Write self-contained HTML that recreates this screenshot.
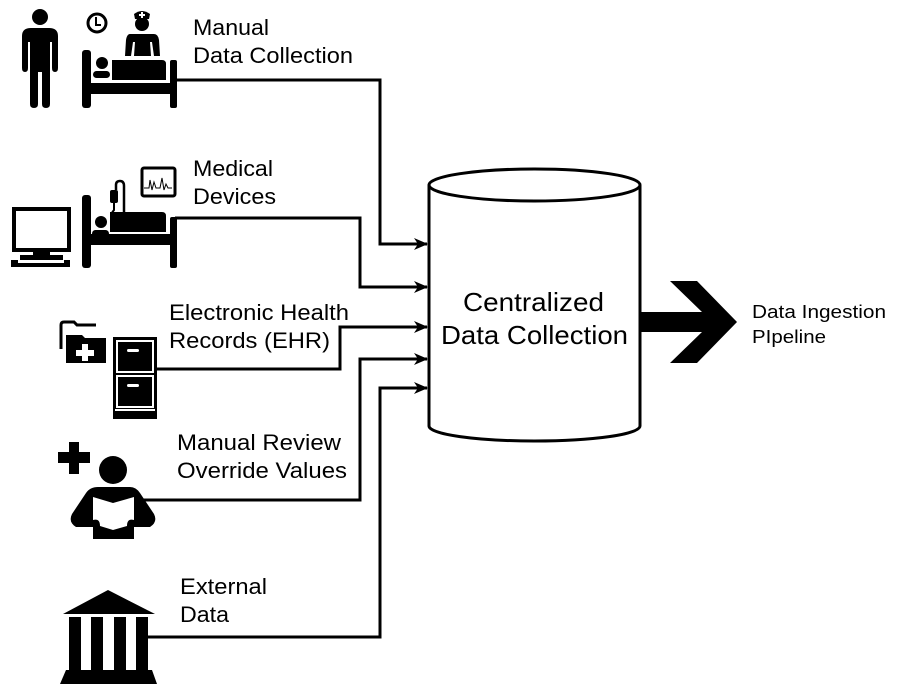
<!DOCTYPE html>
<html><head><meta charset="utf-8"><style>
html,body{margin:0;padding:0;background:#fff;}
svg{display:block;}
text{font-family:"Liberation Sans",Arial,sans-serif;fill:#000;}
</style></head><body>
<svg width="910" height="695" viewBox="0 0 910 695" xmlns="http://www.w3.org/2000/svg">
<defs>
<marker id="ah" markerWidth="14" markerHeight="12" refX="13" refY="6" orient="auto" markerUnits="userSpaceOnUse">
<path d="M0,0 L14,6 L0,12 L4,6 Z" fill="#000"/>
</marker>
</defs>
<g fill="none" stroke="#000" stroke-width="3">
<polyline points="177,80 380,80 380,244 427,244" marker-end="url(#ah)"/>
<polyline points="175,218 360,218 360,287 427,287" marker-end="url(#ah)"/>
<polyline points="157,369 340,369 340,327 427,327" marker-end="url(#ah)"/>
<polyline points="140,500 360,500 360,359 427,359" marker-end="url(#ah)"/>
<polyline points="148,637 380,637 380,388 427,388" marker-end="url(#ah)"/>
</g>
<path d="M429,185 L429,426 A105.5,15 0 0 0 640,426 L640,185" fill="#fff" stroke="#000" stroke-width="3"/>
<ellipse cx="534.5" cy="185" rx="105.5" ry="16" fill="#fff" stroke="#000" stroke-width="3"/>
<text x="463" y="311" font-size="26" textLength="141" lengthAdjust="spacingAndGlyphs">Centralized</text>
<text x="441" y="344" font-size="26" textLength="187" lengthAdjust="spacingAndGlyphs">Data Collection</text>
<polygon points="640,312 702,312 670,281 697,281 737,322 697,363 670,363 702,332 640,332" fill="#000"/>
<text x="752" y="318" font-size="18" textLength="134" lengthAdjust="spacingAndGlyphs">Data Ingestion</text>
<text x="752" y="343" font-size="18" textLength="74" lengthAdjust="spacingAndGlyphs">PIpeline</text>
<g font-size="22" lengthAdjust="spacingAndGlyphs">
<text x="193" y="35" textLength="76" lengthAdjust="spacingAndGlyphs">Manual</text>
<text x="193" y="63" textLength="160" lengthAdjust="spacingAndGlyphs">Data Collection</text>
<text x="193" y="176" textLength="80" lengthAdjust="spacingAndGlyphs">Medical</text>
<text x="193" y="204" textLength="83" lengthAdjust="spacingAndGlyphs">Devices</text>
<text x="169" y="320" textLength="180" lengthAdjust="spacingAndGlyphs">Electronic Health</text>
<text x="169" y="348" textLength="161" lengthAdjust="spacingAndGlyphs">Records (EHR)</text>
<text x="177" y="450" textLength="164" lengthAdjust="spacingAndGlyphs">Manual Review</text>
<text x="177" y="478" textLength="170" lengthAdjust="spacingAndGlyphs">Override Values</text>
<text x="180" y="594" textLength="87" lengthAdjust="spacingAndGlyphs">External</text>
<text x="180" y="622" textLength="49" lengthAdjust="spacingAndGlyphs">Data</text>
</g>
<g fill="#000">
<circle cx="40" cy="17" r="8"/>
<path d="M31,28 H49 Q58,28 58,36 V68 Q58,72 55,72 Q52,72 52,68 V42 H50 V104 Q50,108 46,108 Q42,108 42,104 V72 H38 V104 Q38,108 34,108 Q30,108 30,104 V42 H28 V68 Q28,72 25,72 Q22,72 22,68 V36 Q22,28 31,28Z"/>
</g>
<circle cx="97" cy="23" r="9" fill="none" stroke="#000" stroke-width="3"/>
<polyline points="96,17 96,25 101,25" fill="none" stroke="#000" stroke-width="2"/>
<g fill="#000">
<path d="M134,14 Q142,8 150,14 L149,19 H135Z"/>
<circle cx="142" cy="24" r="7"/>
<path d="M130,34 H154 Q158,34 159,40 L160,56 H154 L152,42 H150 L151,56 H134 L135,42 H133 L131,56 H125 L126,40 Q127,34 130,34Z"/>
</g>
<rect x="141" y="12" width="2" height="6" fill="#fff"/><rect x="139" y="14" width="6" height="2" fill="#fff"/>
<g fill="#000">
<rect x="82" y="50" width="9" height="58" rx="3"/>
<rect x="170" y="60" width="7" height="48" rx="2"/>
<rect x="88" y="83" width="85" height="11"/>
<circle cx="102" cy="63" r="6"/>
<rect x="93" y="71" width="17" height="7" rx="3.5"/>
<path d="M112,60 H162 Q166,60 166,64 V80 H112Z"/>
</g>
<g fill="#000">
<rect x="82" y="195" width="9" height="73" rx="3"/>
<rect x="170" y="217" width="7" height="51" rx="2"/>
<rect x="88" y="234" width="85" height="11"/>
<circle cx="101" cy="222" r="6"/>
<rect x="92" y="230" width="17" height="7" rx="3.5"/>
<path d="M110,212 H162 Q166,212 166,216 V232 H110Z"/>
<rect x="110" y="190" width="8" height="13" rx="2"/>
<path d="M124,217 V186 Q124,181 120,181 Q116,181 116,185 V190" fill="none" stroke="#000" stroke-width="2.5"/>
<path d="M114,203 L114,210 L111,214" fill="none" stroke="#000" stroke-width="2"/>
</g>
<rect x="142" y="168" width="33" height="28" rx="2" fill="#fff" stroke="#000" stroke-width="3"/>
<polyline points="144,188 149,188 150,180 152,190 154,182 156,188 160,188 162,178 164,190 166,184 168,188 172,188" fill="none" stroke="#000" stroke-width="1"/>
<rect x="14" y="209" width="55" height="41" fill="#fff" stroke="#000" stroke-width="4"/>
<rect x="33" y="250" width="17" height="6" fill="#000"/>
<path d="M20,255 H63 L63,260 H70 V267 H11 V260 H20Z" fill="#000"/>
<rect x="18" y="260" width="46" height="3" fill="#fff"/>
<path d="M61,349 V325 Q61,322 64,322 H74 L77,325 H96" fill="none" stroke="#000" stroke-width="3"/>
<path d="M66,335 H82 L85,338 H106 V363 H66Z" fill="#000"/>
<rect x="82" y="344" width="6" height="17" fill="#fff"/><rect x="76" y="350" width="18" height="6" fill="#fff"/>
<rect x="113" y="337" width="44" height="82" fill="#000"/>
<rect x="117" y="341" width="36" height="31" fill="#000" stroke="#fff" stroke-width="2"/>
<rect x="117" y="376" width="36" height="31" fill="#000" stroke="#fff" stroke-width="2"/>
<rect x="127" y="349" width="12" height="3" rx="1.5" fill="#fff"/>
<rect x="127" y="384" width="12" height="3" rx="1.5" fill="#fff"/>
<rect x="115" y="409" width="40" height="2" fill="#fff"/>
<g fill="#000">
<rect x="69" y="442" width="10" height="32"/><rect x="58" y="452" width="32" height="11"/>
<circle cx="113" cy="470" r="14"/>
<path d="M98,487 H130 Q136,487 140,493 L154,514 Q158,522 150,527 L134,527 V539 H93 V527 L76,527 Q68,522 72,514 L86,493 Q90,487 98,487Z"/>
</g>
<path d="M93,497 L113,503 L134,497 V520 Q127,518 127,526 L113,530 L100,526 Q100,518 93,520Z" fill="#fff"/>
<g fill="#000">
<polygon points="63,614 108,590 155,614"/>
<rect x="69" y="617" width="12" height="53"/>
<rect x="91" y="617" width="12" height="53"/>
<rect x="114" y="617" width="12" height="53"/>
<rect x="136" y="617" width="12" height="53"/>
<polygon points="66,670 152,670 157,684 60,684"/>
</g>
</svg>
</body></html>
